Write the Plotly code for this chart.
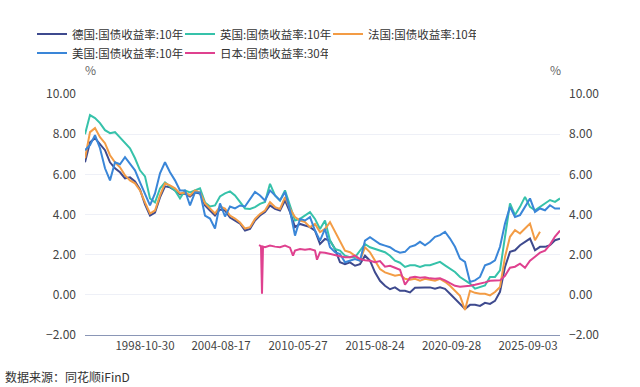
import plotly.graph_objects as go

# observation index (shared by the four 10-year series)
OBS = list(range(0, 476, 5))

DE_10Y = [6.6, 7.6, 7.8, 7.5, 7.2, 6.6, 6.3, 6.1, 5.8, 5.85, 5.65, 5.25, 4.5, 3.95, 4.1, 4.85,
          5.4, 5.35, 5.2, 5.0, 5.05, 4.9, 5.1, 5.05, 4.45, 4.2, 3.95, 4.25, 4.2, 3.85, 3.7,
          3.55, 3.2,
          3.28, 3.7, 3.95, 4.12, 4.45, 4.28, 4.2, 4.7, 4.12, 3.37, 3.53, 3.45, 3.37, 3.2, 2.53,
          2.78, 2.7, 2.28, 1.62, 1.53, 1.62, 1.45, 1.53, 1.95, 1.7, 1.12, 0.7, 0.45, 0.28, 0.37,
          0.2,
          0.2, 0.12, 0.35, 0.37, 0.37, 0.37, 0.3, 0.37, 0.3, 0.05, -0.2, -0.45, -0.7, -0.5, -0.5,
          -0.55, -0.4, -0.45, -0.3, 0.15, 1.39, 2.14, 2.22, 2.47, 2.64, 2.8, 2.22, 2.39, 2.39,
          2.47, 2.72, 2.8]

UK_10Y = [8.0, 8.95, 8.8, 8.55, 8.2, 8.05, 8.1, 7.85, 7.6, 7.3, 6.8, 6.2, 5.9, 4.8, 4.6, 5.3,
          5.6, 5.4, 5.2, 4.8, 5.2, 5.1, 5.2, 5.3, 4.6, 4.4, 4.45, 4.9, 5.05, 5.15, 4.95, 4.6, 4.3,
          4.28, 4.37, 4.53, 4.62, 5.53, 4.95, 4.7, 5.2, 4.45, 3.7, 3.78, 3.95, 4.12, 3.78, 3.28,
          3.7, 2.7, 2.28, 2.2, 1.95, 1.87, 1.87, 2.2, 2.53, 2.37, 2.28, 2.2, 2.12, 1.95, 1.7,
          1.6,
          1.39, 1.47, 1.47, 1.39, 1.47, 1.47, 1.56, 1.64, 1.47, 1.3, 1.14, 0.89, 0.72, 0.56, 0.31,
          0.39, 0.47, 0.89, 0.89, 1.22, 2.89, 4.55, 3.97, 4.38, 4.88, 4.38, 4.21, 4.38, 4.55,
          4.72, 4.63, 4.8]

FR_10Y = [6.8, 8.1, 8.3, 7.85, 7.55, 6.95, 6.6, 6.35, 5.95, 5.7, 5.55, 5.2, 4.6, 4.05, 4.2, 4.95,
          5.55, 5.45, 5.3, 5.05, 5.1, 4.95, 5.2, 5.1, 4.55, 4.3, 4.05, 4.4, 4.3, 3.95, 3.8,
          3.6, 3.3,
          3.37, 3.78, 4.03, 4.2, 4.62, 4.37, 4.28, 4.87, 4.28, 3.87, 3.7, 3.62, 3.37, 3.53, 3.12,
          3.28, 3.62, 3.12, 2.7, 2.2, 2.12, 1.95, 1.7, 2.37, 2.12, 1.7, 1.28, 1.12, 1.03, 0.95,
          1.0,
          0.8, 0.75, 0.8, 0.7, 0.8, 0.75, 0.7, 0.8, 0.65, 0.45, 0.2, -0.05, -0.75, 0.2, 0.1,
          0.05, 0.05, -0.03, 0.14, 0.39, 1.89, 2.89, 3.22, 3.05, 3.3, 3.55, 2.72, 3.14,
          None, None, None, None]

US_10Y = [7.2, 7.45, 7.95, 7.3, 6.3, 5.7, 6.6, 6.5, 6.85, 6.5, 6.2, 5.6, 5.05, 4.45, 5.05, 6.05,
          6.6, 6.1, 5.7, 5.2, 5.2, 4.45, 5.1, 5.1, 3.95, 3.8, 3.3, 4.55, 3.9, 4.4, 4.3,
          4.45, 4.4,
          4.78, 5.12, 4.95, 4.7, 5.2, 4.95, 4.7, 5.12, 4.2, 2.95, 3.78, 3.7, 3.87, 3.2, 2.7,
          3.28, 2.37, 2.12, 2.03, 1.62, 1.7, 1.78, 1.7, 2.7, 2.87, 2.7, 2.53, 2.45, 2.37, 2.2,
          2.1,
          2.14, 2.39, 2.47, 2.64, 2.47, 2.64, 2.89, 2.97, 3.14, 2.8, 2.39, 1.8, 1.64, 0.64, 0.72,
          0.89, 1.47, 1.56, 1.72, 2.39, 3.55, 4.38, 3.88, 3.97, 4.38, 4.8, 4.13, 4.3, 4.21,
          4.46, 4.3, 4.3]

# Japan 30-year series (starts later, has one zero print)
JP_OBS = [174, 176, 177, 178, 180, 185, 190, 195, 200, 205, 208, 210, 215, 220, 225, 230, 232,
          235, 240, 245, 250, 255, 260, 265, 270, 275, 280, 285, 290, 295, 300, 305, 310, 315,
          320, 325, 330, 335, 340, 345, 350, 355, 360, 365, 370, 375, 380, 385, 390, 395, 400,
          405, 410, 415, 420, 425, 430, 435, 440, 445, 450, 455, 460, 465, 470, 475]
JP_30Y = [2.47, 2.42, 0.05, 2.4, 2.37, 2.45, 2.4, 2.37, 2.45, 2.35, 1.95, 2.2, 2.28, 2.25, 2.28,
          2.2, 1.75, 2.12, 2.1, 2.03, 1.98, 1.92, 1.87, 1.87, 1.95, 1.78, 1.72, 1.7, 1.62, 1.68,
          1.4, 1.45, 1.35, 1.25, 0.5, 0.85, 0.9, 0.85, 0.88, 0.82, 0.8, 0.82, 0.72, 0.6, 0.45,
          0.4, 0.42, 0.45, 0.5, 0.55, 0.62, 0.7, 0.7, 0.72, 0.95, 1.35, 1.4, 1.55, 1.35, 1.7,
          1.9, 2.1, 2.2, 2.5, 2.9, 3.2]

TICK_POS = [60, 136, 213, 290, 366.5, 443]
TICK_LABELS = ["1998-10-30", "2004-08-17", "2010-05-27", "2015-08-24", "2020-09-28", "2025-09-03"]
Y_TICKS = [-2, 0, 2, 4, 6, 8, 10]

FONT = "Noto Sans CJK SC, Microsoft YaHei, sans-serif"

series = [
    ("德国:国债收益率:10年", OBS, DE_10Y, "#3e4a8e", "legend", "y"),
    ("英国:国债收益率:10年", OBS, UK_10Y, "#36c2aa", "legend", "y"),
    ("法国:国债收益率:10年", OBS, FR_10Y, "#f39c45", "legend", "y"),
    ("美国:国债收益率:10年", OBS, US_10Y, "#3a86d8", "legend2", "y"),
    ("日本:国债收益率:30年", JP_OBS, JP_30Y, "#df418f", "legend2", "y2"),
]

fig = go.Figure()
for name, xs, ys, color, leg, yax in series:
    fig.add_trace(go.Scatter(
        x=xs, y=ys, mode="lines", name=name,
        line=dict(color=color, width=2),
        legend=leg, yaxis=yax, connectgaps=False,
    ))

axis_font = dict(family=FONT, size=12, color="#444444")
legend_common = dict(
    orientation="h", xref="container", yref="container",
    xanchor="left", yanchor="middle",
    font=dict(family=FONT, size=11.5, color="#333333"),
    entrywidth=103, entrywidthmode="pixels",
    bgcolor="rgba(0,0,0,0)", itemclick=False,
)

fig.update_layout(
    width=640, height=387,
    margin=dict(l=85, r=80, t=94, b=52),
    paper_bgcolor="white", plot_bgcolor="white",
    font=dict(family=FONT),
    showlegend=True,
    legend=dict(x=32 / 640, y=1 - 34 / 387, **legend_common),
    legend2=dict(x=32 / 640, y=1 - 53 / 387, **legend_common),
    xaxis=dict(
        range=[0, 475], showgrid=False, zeroline=False,
        showline=True, linecolor="#8a96b6", linewidth=1,
        tickmode="array", tickvals=TICK_POS, ticktext=TICK_LABELS,
        ticks="", tickfont=dict(family=FONT, size=11.5, color="#444444"),
    ),
    yaxis=dict(
        range=[-2, 10], tickmode="array", tickvals=Y_TICKS, tickformat=".2f",
        showgrid=True, gridcolor="#eef0f7", gridwidth=1, zeroline=False,
        showline=False, ticks="", tickfont=axis_font, ticklabelstandoff=8,
    ),
    yaxis2=dict(
        range=[-2, 10], tickmode="array", tickvals=Y_TICKS, tickformat=".2f",
        overlaying="y", side="right", anchor="x",
        showgrid=False, zeroline=False, showline=False, ticks="",
        tickfont=axis_font, ticklabelstandoff=8,
    ),
    annotations=[
        dict(text="%", xref="paper", yref="paper", x=(90 - 85) / 475, y=1 + (94 - 70) / 241,
             showarrow=False, xanchor="center", yanchor="middle",
             font=dict(family=FONT, size=12, color="#666666")),
        dict(text="%", xref="paper", yref="paper", x=(555 - 85) / 475, y=1 + (94 - 70) / 241,
             showarrow=False, xanchor="center", yanchor="middle",
             font=dict(family=FONT, size=12, color="#666666")),
        dict(text="数据来源：同花顺iFinD", xref="paper", yref="paper",
             x=(3 - 85) / 475, y=(335 - 376) / 241,
             showarrow=False, xanchor="left", yanchor="middle",
             font=dict(family=FONT, size=12, color="#333333")),
    ],
)

fig.write_html(
    "out.html",
    config={"displayModeBar": False},
    post_script="document.body.style.margin='0px';document.body.style.padding='0px';",
)
